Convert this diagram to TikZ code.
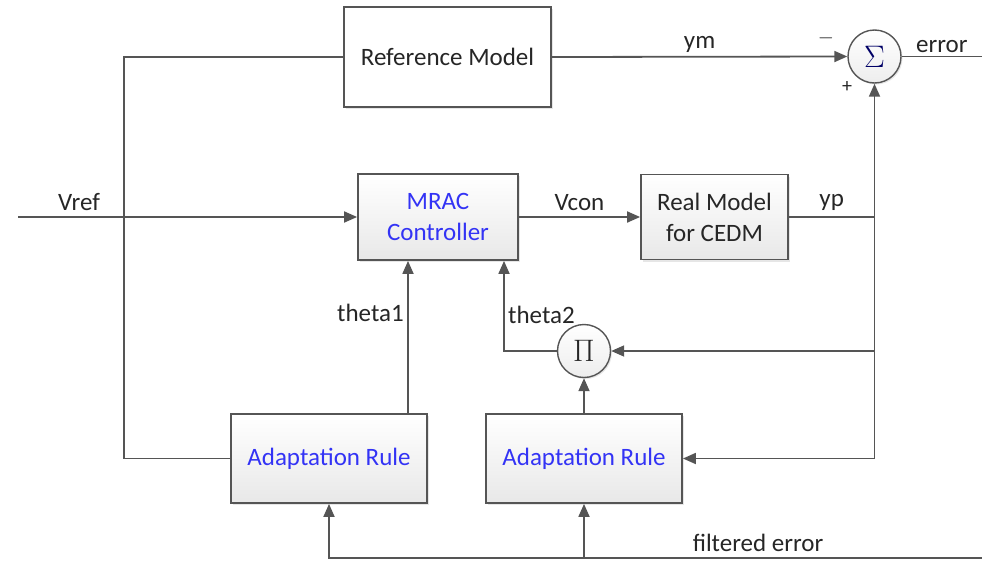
\documentclass[tikz,border=0pt]{standalone}
\usepackage{fontspec}
\setmainfont{Carlito}
\usetikzlibrary{arrows.meta,shadows}
\definecolor{linegray}{HTML}{555555}
\definecolor{labeldark}{HTML}{262626}
\definecolor{ruleblue}{HTML}{3333F5}
\newcommand{\opsymbol}[1]{\scalebox{1.25}{$#1$}}
\begin{document}
\begin{tikzpicture}[x=1pt,y=-1pt,
    every node/.style={font=\fontsize{25}{31}\selectfont, text=labeldark},
    wire/.style={draw=linegray, line width=1.8pt},
    arr/.style={wire, -{Triangle[length=13pt,width=11pt]}},
    lbl/.style={above=2.5pt},
    plainbox/.style={draw=linegray, line width=1.8pt, fill=white, align=center,
      drop shadow={opacity=0.2, shadow xshift=2pt, shadow yshift=-2pt}},
    block/.style={plainbox, top color=white, bottom color=black!9},
    bluetext/.style={text=ruleblue},
    opnode/.style={circle, draw=linegray, line width=1.4pt, minimum size=53pt, inner sep=0pt,
      top color=white, bottom color=black!7,
      drop shadow={opacity=0.2, shadow xshift=1.5pt, shadow yshift=-1.5pt}},
    signlabel/.style={font=\fontsize{20}{20}\selectfont}]
  \useasboundingbox (0,0) rectangle (982,560);

  \node[plainbox, minimum width=207, minimum height=100] (refmodel) at (447.5,57) {Reference Model};
  \node[opnode] (sum) at (874.5,56.5) {\textcolor{blue!40!black}{\opsymbol{\Sigma}}};
  \node[block, bluetext, minimum width=160, minimum height=86] (mrac) at (438,217) {MRAC\\Controller};
  \node[block, minimum width=147, minimum height=85] (real) at (714.5,217) {Real Model\\for CEDM};
  \node[opnode] (prod) at (584,351) {\opsymbol{\Pi}};
  \node[block, bluetext, minimum width=196, minimum height=89] (adapt1) at (329,458.5) {Adaptation Rule};
  \node[block, bluetext, minimum width=196, minimum height=89] (adapt2) at (584,458.5) {Adaptation Rule};

  \node[signlabel] (minus) at (826,38) {$-$};
  \node[signlabel] (plus) at (847,87) {+};

  \coordinate (vrefin) at (18,217);
  \coordinate (leftdown) at (124,458.5);
  \coordinate (ypsplit) at (874.5,217);
  \coordinate (ypprod) at (874.5,351);
  \coordinate (rightdown) at (874.5,458.5);
  \coordinate (errout) at (982,56.5);
  \coordinate (ferr) at (982,558);

  \draw[arr] (vrefin) -- node[lbl, pos=0.18] {Vref} (mrac.west);
  \draw[wire] (refmodel.west) -| (leftdown) -- (adapt1.west);
  \draw[arr] (refmodel.east) -- node[above, pos=0.5] {ym} (sum.west);
  \draw[wire] (sum.east) -- node[above] {error} (errout);
  \draw[arr] (mrac.east) -- node[lbl] {Vcon} (real.west);
  \draw[wire] (real.east) -- node[lbl] {yp} (ypsplit);
  \draw[arr] (rightdown) -- (sum.south);
  \draw[arr] (rightdown) -- (adapt2.east);
  \draw[arr] (ypprod) -- (prod.east);
  \draw[arr] (prod.west) -| node[right, pos=0.7] {theta2} ([xshift=66pt]mrac.south);
  \draw[arr] ([xshift=79pt]adapt1.north) -- node[left, pos=0.66] {theta1} ([xshift=-30pt]mrac.south);
  \draw[arr] (adapt2.north) -- (prod.south);
  \draw[arr] (ferr) -- node[lbl, pos=0.343] {filtered error} (adapt1.south |- ferr) -- (adapt1.south);
  \draw[arr] (adapt2.south |- ferr) -- (adapt2.south);

\end{tikzpicture}
\end{document}
